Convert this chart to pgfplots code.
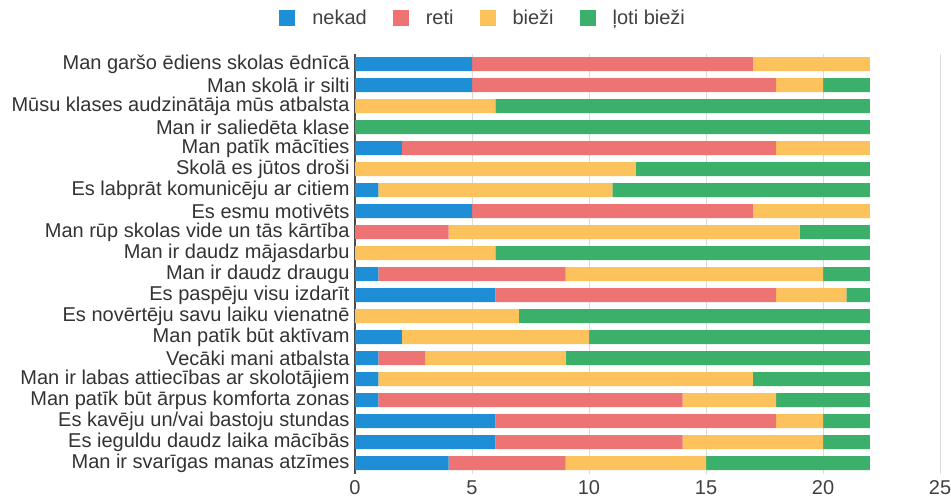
\documentclass[border=0pt]{standalone}
\usepackage{fontspec}
\setmainfont{Liberation Sans}
\usepackage{pgfplots}
\usepackage{pgfplotstable}
\pgfplotsset{compat=1.18}
\definecolor{cnekad}{HTML}{1E8FD6}
\definecolor{creti}{HTML}{EE7474}
\definecolor{cbiezi}{HTML}{FCC25C}
\definecolor{cloti}{HTML}{3BB06A}
\definecolor{labtxt}{HTML}{333333}
\pgfplotstableread{
i nekad reti biezi loti
1 5 12 5 0
2 5 13 2 2
3 0 0 6 16
4 0 0 0 22
5 2 16 4 0
6 0 0 12 10
7 1 0 10 11
8 5 12 5 0
9 0 4 15 3
10 0 0 6 16
11 1 8 11 2
12 6 12 3 1
13 0 0 7 15
14 2 0 8 12
15 1 2 6 13
16 1 0 16 5
17 1 13 4 4
18 6 12 2 2
19 6 8 6 2
20 4 5 6 7
}\data
\begin{document}
\begin{tikzpicture}
\useasboundingbox (0,0) rectangle (951bp,504bp);
\begin{axis}[
  at={(355bp,30.5bp)}, anchor=south west,
  scale only axis, width=585bp, height=420bp,
  xbar stacked, bar width=14bp,
  xmin=0, xmax=25, ymin=0.5, ymax=20.5, y dir=reverse,
  xtick={0,5,10,15,20,25}, ytick={1,...,20},
  yticklabels={Man garšo ēdiens skolas ēdnīcā, Man skolā ir silti, Mūsu klases audzinātāja mūs atbalsta, Man ir saliedēta klase, Man patīk mācīties, Skolā es jūtos droši, Es labprāt komunicēju ar citiem, Es esmu motivēts, Man rūp skolas vide un tās kārtība, Man ir daudz mājasdarbu, Man ir daudz draugu, Es paspēju visu izdarīt, Es novērtēju savu laiku vienatnē, Man patīk būt aktīvam, Vecāki mani atbalsta, Man ir labas attiecības ar skolotājiem, Man patīk būt ārpus komforta zonas, Es kavēju un/vai bastoju stundas, Es ieguldu daudz laika mācībās, Man ir svarīgas manas atzīmes},
  axis y line*=left, axis x line*=bottom,
  x axis line style={draw=none},
  y axis line style={draw=black!70, line width=1.2pt},
  major tick length=0pt,
  xmajorgrids, grid style={black!14, line width=0.8pt},
  tick label style={font=\fontsize{20bp}{22bp}\selectfont, text=labtxt},
  yticklabel style={xshift=-2bp},
  xticklabel style={yshift=-4bp, text=black!75},
  /pgf/number format/assume math mode=true,
  legend columns=4,
  legend style={at={(axis description cs:0.219,1.085)}, anchor=center, draw=none, fill=none,
    font=\fontsize{20bp}{22bp}\selectfont, text=black!75,
    /tikz/every odd column/.append style={column sep=15bp},
    /tikz/every even column/.append style={column sep=24bp}},
  legend image code/.code={\fill[#1] (0bp,-8bp) rectangle (16bp,8bp);},
]
\addplot[fill=cnekad, draw=none] table[x=nekad, y=i] {\data};
\addplot[fill=creti, draw=none] table[x=reti, y=i] {\data};
\addplot[fill=cbiezi, draw=none] table[x=biezi, y=i] {\data};
\addplot[fill=cloti, draw=none] table[x=loti, y=i] {\data};
\legend{nekad, reti, bieži, ļoti bieži}
\end{axis}
\end{tikzpicture}
\end{document}
